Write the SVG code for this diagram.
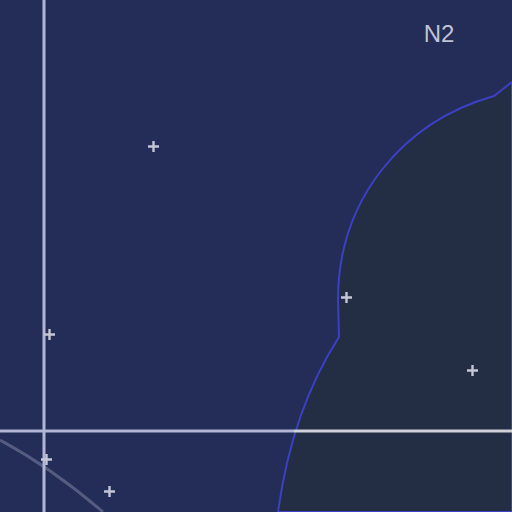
<svg xmlns="http://www.w3.org/2000/svg" width="512" height="512" viewBox="0 0 512 512">
<style>
.pt{stroke:#c4c6d8;stroke-width:2.4;fill:none}
.lbl{font-family:"Liberation Sans",Arial,sans-serif;font-size:24px;fill:#c0c3d3}
</style>
<defs>
<g id="plus"><path class="pt" d="M-5.5,0H5.5M0,-5.5V5.5"/></g>
</defs>
<rect width="512" height="512" fill="#232d57"/>
<g id="region">
<path d="M512,82 L494,96 C402,122 338,200 338,300 L339,337 Q292,410 278,512 L512,512 Z" fill="#232e44" stroke="#3b40c4" stroke-width="2"/>
</g>
<g id="connectors">
<path d="M0,440 Q52,468 103,512" fill="none" stroke="#565b80" stroke-width="3"/>
<line x1="44" y1="0" x2="44" y2="512" stroke="#b2b5d6" stroke-width="3"/>
<line x1="0" y1="431" x2="294" y2="431" stroke="#b2b5d6" stroke-width="3"/>
<line x1="294" y1="431" x2="512" y2="431" stroke="#cfd0da" stroke-width="3"/>
</g>
<g id="points">
<use href="#plus" x="153.5" y="146.5"/>
<use href="#plus" x="346.5" y="297.5"/>
<use href="#plus" x="49.5" y="334.5"/>
<use href="#plus" x="472.5" y="370.5"/>
<use href="#plus" x="46.5" y="459.5"/>
<use href="#plus" x="109.5" y="491.5"/>
</g>
<g id="N2"><text class="lbl" x="439" y="42" text-anchor="middle">N2</text></g>
</svg>
